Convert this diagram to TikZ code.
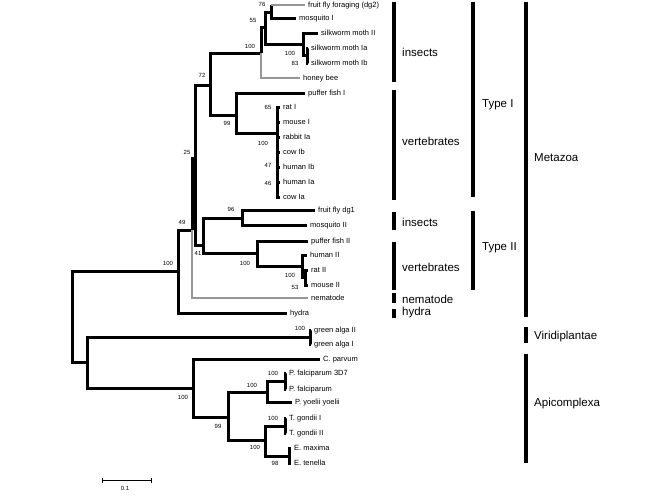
\documentclass[tikz,border=0pt]{standalone}
\usepackage{fontspec}
\setmainfont{Liberation Sans}
\definecolor{treegray}{RGB}{150,150,150}
\begin{document}
\begin{tikzpicture}[x=1pt,y=-1pt,
  tree/.style={line width=3pt,black},
  gl/.style={line width=2pt,treegray},
  leaf/.style={anchor=west,inner xsep=3pt,inner ysep=0pt,font=\fontsize{7.5}{8}\selectfont,text height=5pt,text depth=1pt},
  bs/.style={font=\fontsize{6}{7}\selectfont,inner sep=0pt},
  bar/.style={line width=4.5pt},
  grp/.style={anchor=west,inner sep=0pt,font=\fontsize{11.5}{13}\selectfont}]
\useasboundingbox (0,0) rectangle (672,501);
% internal nodes
\coordinate (root) at (72,316);
\coordinate (meta) at (178,271);
\coordinate (X) at (192,230);
\coordinate (n25) at (195,158);
\coordinate (n72) at (210,85);
\coordinate (ins) at (261,53);
\coordinate (n55) at (265,27);
\coordinate (n76) at (271,12);
\coordinate (silk) at (303,44);
\coordinate (s2) at (307,55);
\coordinate (vert) at (236,115);
\coordinate (M) at (277,133);
\coordinate (t2) at (203,245);
\coordinate (ins2) at (242,218);
\coordinate (vert2) at (257,253);
\coordinate (hm) at (302,266);
\coordinate (rm) at (305,277);
\coordinate (nb) at (87,362);
\coordinate (algae) at (310,337);
\coordinate (apic) at (193,388);
\coordinate (n99b) at (228,417);
\coordinate (plas) at (267,392);
\coordinate (pf) at (285,381);
\coordinate (te) at (265,440);
\coordinate (toxo) at (285,426);
\coordinate (eim) at (289,456);
% leaves
\node[leaf] (fly) at (305,5) {fruit fly foraging (dg2)};
\node[leaf] (mosqI) at (296,18) {mosquito I};
\node[leaf] (silkII) at (318,33) {silkworm moth II};
\node[leaf] (silkIa) at (308,48) {silkworm moth Ia};
\node[leaf] (silkIb) at (308,63) {silkworm moth Ib};
\node[leaf] (bee) at (300,78) {honey bee};
\node[leaf] (pufferI) at (305,93) {puffer fish I};
\node[leaf] (ratI) at (280,107) {rat I};
\node[leaf] (mouseI) at (280,122) {mouse I};
\node[leaf] (rabbitIa) at (280,137) {rabbit Ia};
\node[leaf] (cowIb) at (280,152) {cow Ib};
\node[leaf] (humanIb) at (280,167) {human Ib};
\node[leaf] (humanIa) at (280,182) {human Ia};
\node[leaf] (cowIa) at (280,197) {cow Ia};
\node[leaf] (flydg1) at (315,210) {fruit fly dg1};
\node[leaf] (mosqII) at (307,225) {mosquito II};
\node[leaf] (pufferII) at (308,241) {puffer fish II};
\node[leaf] (humanII) at (307,255) {human II};
\node[leaf] (ratII) at (308,270) {rat II};
\node[leaf] (mouseII) at (308,285) {mouse II};
\node[leaf] (nematode) at (308,298) {nematode};
\node[leaf] (hydra) at (287,313) {hydra};
\node[leaf] (algaII) at (311,330) {green alga II};
\node[leaf] (algaI) at (311,344) {green alga I};
\node[leaf] (cparvum) at (320,359) {C. parvum};
\node[leaf] (pf3d7) at (286,373) {P. falciparum 3D7};
\node[leaf] (pfal) at (286,389) {P. falciparum};
\node[leaf] (pyoelii) at (292,402) {P. yoelii yoelii};
\node[leaf] (tgI) at (286,418) {T. gondii I};
\node[leaf] (tgII) at (286,433) {T. gondii II};
\node[leaf] (emax) at (291,448) {E. maxima};
\node[leaf] (eten) at (291,463) {E. tenella};
% branches
\draw[tree] (root) |- (meta);
\draw[tree] (root) |- (nb);
\draw[tree] (meta) |- (X);
\draw[tree] (meta) |- (hydra.west);
\draw[tree] (X) |- (n25);
\draw[gl] (X) |- (nematode.west);
\draw[tree] (n25) |- (n72);
\draw[tree] (n25) |- (t2);
\draw[tree] (n72) |- (ins);
\draw[tree] (n72) |- (vert);
\draw[tree] (ins) |- (n55);
\draw[gl] (ins) |- (bee.west);
\draw[tree] (n55) |- (n76);
\draw[tree] (n55) |- (silk);
\draw[tree] (n76) -- (n76 |- fly.west);
\draw[gl] (n76 |- fly.west) -- (fly.west);
\draw[tree] (n76) |- (mosqI.west);
\draw[tree] (silk) |- (silkII.west);
\draw[tree] (silk) |- (s2);
\draw[tree] (s2) |- (silkIa.west);
\draw[tree] (s2) |- (silkIb.west);
\draw[tree] (vert) |- (pufferI.west);
\draw[tree] (vert) |- (M);
\foreach \l in {ratI,mouseI,rabbitIa,cowIb,humanIb,humanIa,cowIa}
  \draw[tree] (M) |- (\l.west);
\draw[tree] (t2) |- (ins2);
\draw[tree] (t2) |- (vert2);
\draw[tree] (ins2) |- (flydg1.west);
\draw[tree] (ins2) |- (mosqII.west);
\draw[tree] (vert2) |- (pufferII.west);
\draw[tree] (vert2) |- (hm);
\draw[tree] (hm) |- (humanII.west);
\draw[tree] (hm) |- (rm);
\draw[tree] (rm) |- (ratII.west);
\draw[tree] (rm) |- (mouseII.west);
\draw[tree] (nb) |- (algae);
\draw[tree] (nb) |- (apic);
\draw[tree] (algae) |- (algaII.west);
\draw[tree] (algae) |- (algaI.west);
\draw[tree] (apic) |- (cparvum.west);
\draw[tree] (apic) |- (n99b);
\draw[tree] (n99b) |- (plas);
\draw[tree] (n99b) |- (te);
\draw[tree] (plas) |- (pf);
\draw[tree] (plas) |- (pyoelii.west);
\draw[tree] (pf) |- (pf3d7.west);
\draw[tree] (pf) |- (pfal.west);
\draw[tree] (te) |- (toxo);
\draw[tree] (te) |- (eim);
\draw[tree] (toxo) |- (tgI.west);
\draw[tree] (toxo) |- (tgII.west);
\draw[tree] (eim) |- (emax.west);
\draw[tree] (eim) |- (eten.west);
% bootstrap values
\node[bs] (b76) at (262,4) {76};
\node[bs] (b55) at (253,20) {55};
\node[bs] (b100i) at (250,46) {100};
\node[bs] (b72) at (202,75) {72};
\node[bs] (b100s) at (290,53) {100};
\node[bs] (b83) at (295,63) {83};
\node[bs] (b99v) at (227,123) {99};
\node[bs] (b65) at (268,107) {65};
\node[bs] (b100m) at (263,143) {100};
\node[bs] (b47) at (268,165) {47};
\node[bs] (b46) at (268,183) {46};
\node[bs] (b25) at (187,152) {25};
\node[bs] (b49) at (182,222) {49};
\node[bs] (b41) at (198,253) {41};
\node[bs] (b96) at (231,209) {96};
\node[bs] (b100v2) at (245,263) {100};
\node[bs] (b100rm) at (290,275) {100};
\node[bs] (b53) at (295,287) {53};
\node[bs] (b100meta) at (168,263) {100};
\node[bs] (b100alg) at (300,328) {100};
\node[bs] (b100ap) at (183,397) {100};
\node[bs] (b99ap) at (218,426) {99};
\node[bs] (b100pl) at (252,385) {100};
\node[bs] (b100pf) at (273,373) {100};
\node[bs] (b100te) at (255,447) {100};
\node[bs] (b100tg) at (273,418) {100};
\node[bs] (b98) at (275,463) {98};
% group bars
\draw[bar] (394,2) -- (394,82);
\draw[bar] (394,90) -- (394,200);
\draw[bar] (394,212) -- (394,230);
\draw[bar] (394,242) -- (394,290);
\draw[bar] (394,293) -- (394,303);
\draw[bar] (394,309) -- (394,318);
\draw[bar] (473,2) -- (473,197);
\draw[bar] (473,211) -- (473,290);
\draw[bar] (526,2) -- (526,317);
\draw[bar] (526,327) -- (526,343);
\draw[bar] (526,354) -- (526,463);
\node[grp] (gins) at (402,52) {insects};
\node[grp] (gvert) at (402,141) {vertebrates};
\node[grp] (gt1) at (482,105) {Type I};
\node[grp] (gmeta) at (534,158) {Metazoa};
\node[grp] (gins2) at (402,222) {insects};
\node[grp] (gt2) at (482,248) {Type II};
\node[grp] (gvert2) at (402,267) {vertebrates};
\node[grp] (gnem) at (402,299) {nematode};
\node[grp] (ghyd) at (402,313) {hydra};
\node[grp] (gvir) at (534,337) {Viridiplantae};
\node[grp] (gapi) at (534,404) {Apicomplexa};
% scale bar
\coordinate (sbL) at (102,480);
\coordinate (sbR) at (151,480);
\draw[line width=0.8pt] (sbL) -- (sbR);
\draw[line width=0.8pt] ([yshift=-2.5pt]sbL) -- ([yshift=2.5pt]sbL);
\draw[line width=0.8pt] ([yshift=-2.5pt]sbR) -- ([yshift=2.5pt]sbR);
\node[bs] (sblab) at (125,488) {0.1};
\end{tikzpicture}
\end{document}
